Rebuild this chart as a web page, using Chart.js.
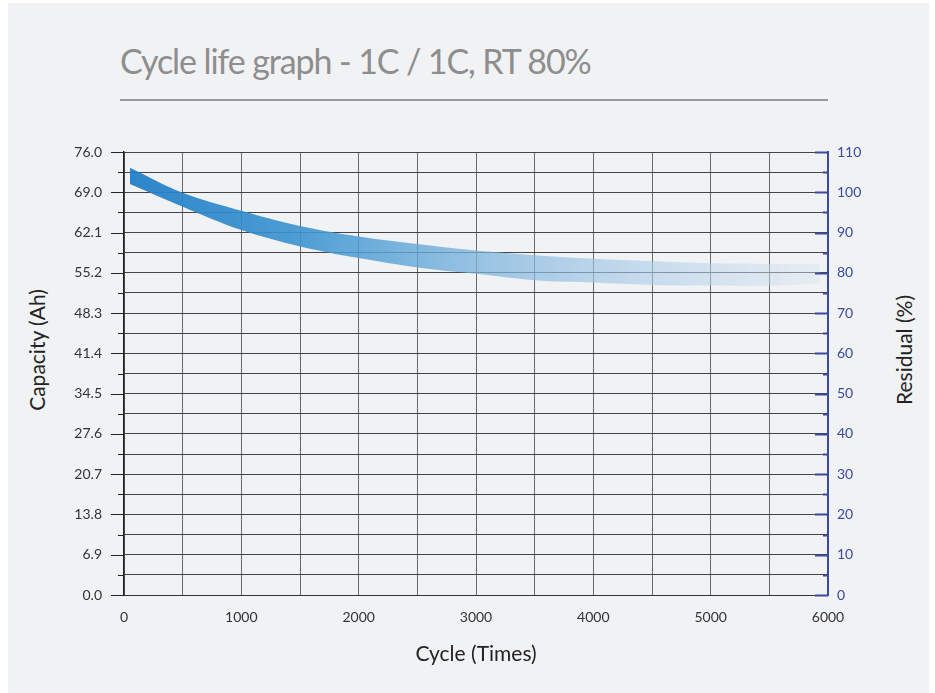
<!DOCTYPE html>
<html>
<head>
<meta charset="utf-8">
<script src="https://cdn.jsdelivr.net/npm/chart.js@4.4.1/dist/chart.umd.min.js"></script>
<style>
  html, body { margin: 0; padding: 0; background: #ffffff; }
  body { width: 935px; height: 693px; position: relative; overflow: hidden; font-family: Lato, sans-serif; }
  .panel { position: absolute; left: 8px; top: 3px; width: 921px; height: 690px; background: #f1f2f4; }
  .title { position: absolute; left: 120px; top: 40px; margin: 0; font-size: 34px; font-weight: 400; letter-spacing: -1.1px; color: #8e8e8e; white-space: nowrap; }
  .rule { position: absolute; left: 120px; top: 99px; width: 708px; height: 2px; background: #9a9a9a; }
  .side { position: absolute; font-size: 21px; color: #222; white-space: nowrap; transform: translate(-50%, -50%) rotate(-90deg); }
  canvas { position: absolute; left: 0; top: 0; }
</style>
</head>
<body>
<div class="panel"></div>
<h1 class="title">Cycle life graph - 1C / 1C, RT 80%</h1>
<div class="rule"></div>
<div class="side" style="left:36px; top:350px;">Capacity (Ah)</div>
<div class="side" style="left:903px; top:350px;">Residual (%)</div>
<canvas id="cycleChart" width="935" height="693"></canvas>
<script>
// band (cycles / capacity Ah)
var cycles = [50, 500, 1000, 1500, 2000, 2500, 3000, 3500, 4000, 4500, 5000, 5500, 5930];
var upperAh = [73.3, 69.0, 65.9, 63.3, 61.5, 60.2, 59.1, 58.3, 57.7, 57.3, 56.9, 56.8, 56.8];
var lowerAh = [70.5, 66.6, 62.6, 59.8, 57.8, 56.2, 55.1, 54.0, 53.6, 53.2, 53.1, 53.1, 53.4];

// tick labels
var capacityLabels = ['0.0', '6.9', '13.8', '20.7', '27.6', '34.5', '41.4', '48.3', '55.2', '62.1', '69.0', '76.0'];
var capacityMax = 76;
var residualMax = 110;
var cycleMax = 6000;

var blue = '#3b49a0';

// tick marks: left ones point out, right ones point in, minor ones shorter
var tickMarks = {
    id: 'tickMarks',
    afterDraw: function(chart) {
        var ctx = chart.ctx;
        var y = chart.scales.y;
        var y2 = chart.scales.y2;
        ctx.save();
        ctx.lineWidth = 1;
        ctx.strokeStyle = '#222';
        y.ticks.forEach(function(t, i) {
            var py = Math.round(y.getPixelForValue(t.value)) + 0.5;
            var len = i % 2 === 0 ? 13 : 6;
            ctx.beginPath();
            ctx.moveTo(y.right - len, py);
            ctx.lineTo(y.right, py);
            ctx.stroke();
        });
        ctx.lineWidth = 2;
        ctx.strokeStyle = blue;
        y2.ticks.forEach(function(t, i) {
            var py = Math.round(y2.getPixelForValue(t.value)) + 0.5;
            var len = i % 2 === 0 ? 13 : 5;
            ctx.beginPath();
            ctx.moveTo(y2.left - len, py);
            ctx.lineTo(y2.left, py);
            ctx.stroke();
        });
        ctx.restore();
    }
};

function bandFill(context) {
    var chart = context.chart;
    var area = chart.chartArea;
    if (!area) return 'rgba(38,130,200,0.9)';
    var x = chart.scales.x;
    var g = chart.ctx.createLinearGradient(x.getPixelForValue(cycles[0]), 0, x.getPixelForValue(cycles[cycles.length - 1]), 0);
    g.addColorStop(0, 'rgba(34,126,198,0.95)');
    g.addColorStop(0.25, 'rgba(60,148,208,0.9)');
    g.addColorStop(0.5, 'rgba(120,178,220,0.75)');
    g.addColorStop(0.75, 'rgba(170,204,232,0.6)');
    g.addColorStop(1, 'rgba(215,228,240,0.45)');
    return g;
}

var ctx = document.getElementById('cycleChart').getContext('2d');
var cycleChart = new Chart(ctx, {
    type: 'line',
    data: {
        datasets: [{
            label: 'upper',
            data: cycles.map(function(c, i) { return { x: c, y: upperAh[i] }; }),
            borderWidth: 0,
            pointRadius: 0,
            tension: 0.35,
            fill: false
        }, {
            label: 'lower',
            data: cycles.map(function(c, i) { return { x: c, y: lowerAh[i] }; }),
            borderWidth: 0,
            pointRadius: 0,
            tension: 0.35,
            fill: '-1',
            backgroundColor: bandFill
        }]
    },
    plugins: [tickMarks],
    options: {
        responsive: false,
        animation: false,
        layout: { padding: { top: 152, left: 0, right: 0, bottom: 0 } },
        plugins: {
            legend: { display: false },
            tooltip: { enabled: false }
        },
        scales: {
            x: {
                type: 'linear',
                min: 0,
                max: cycleMax,
                afterFit: function(scale) { scale.height = 98; },
                ticks: {
                    stepSize: 500,
                    autoSkip: false,
                    maxRotation: 0,
                    padding: 14,
                    color: '#333',
                    font: { family: 'Lato', size: 14 },
                    callback: function(v) { return v % 1000 === 0 ? v : ''; }
                },
                grid: { color: '#6a6a6a', lineWidth: 1, drawTicks: false },
                border: { color: '#333', width: 1 },
                title: {
                    display: true,
                    text: 'Cycle (Times)',
                    color: '#222',
                    font: { family: 'Lato', size: 21 },
                    padding: { top: 0, bottom: 26 }
                }
            },
            y: {
                position: 'left',
                min: 0,
                max: capacityMax,
                afterFit: function(scale) { scale.width = 124; },
                afterBuildTicks: function(scale) {
                    var list = [];
                    for (var i = 0; i <= 22; i++) list.push({ value: i * capacityMax / 22 });
                    scale.ticks = list;
                },
                ticks: {
                    autoSkip: false,
                    padding: 22,
                    color: '#333',
                    font: { family: 'Lato', size: 14 },
                    callback: function(v, i) { return i % 2 === 0 ? capacityLabels[i / 2] : ''; }
                },
                grid: { color: '#444', lineWidth: 1, drawTicks: false },
                border: { color: '#222', width: 1.5 }
            },
            y2: {
                position: 'right',
                min: 0,
                max: residualMax,
                afterFit: function(scale) { scale.width = 107; },
                ticks: {
                    stepSize: 5,
                    autoSkip: false,
                    padding: 9,
                    color: blue,
                    font: { family: 'Lato', size: 14 },
                    callback: function(v) { return v % 10 === 0 ? v : ''; }
                },
                grid: { drawOnChartArea: false, drawTicks: false },
                border: { color: blue, width: 2 }
            }
        }
    }
});
</script>
</body>
</html>
